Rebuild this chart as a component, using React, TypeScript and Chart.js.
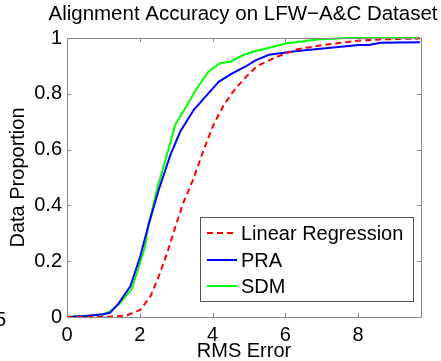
import React, { useEffect, useRef } from "react";
import { Chart, registerables } from "chart.js";

Chart.register(...registerables);

const chartTitle = "Alignment Accuracy on LFW\u2212A&C Dataset";
const xTitle = "RMS Error";
const yTitle = "Data Proportion";
const seriesNames = ["Linear Regression", "PRA", "SDM"];

const xTicks = [0, 2, 4, 6, 8];
const yTicks = [0, 0.2, 0.4, 0.6, 0.8, 1];

const lrX = [0, 0.7, 1.3, 1.64, 2.01, 2.29, 2.52, 2.75, 2.98, 3.2, 3.48, 3.76, 4.03, 4.31, 4.58, 4.9, 5.23, 5.78, 6.33, 7.06, 7.89, 8.62, 9.7];
const lrY = [0, 0, 0.002, 0.006, 0.025, 0.073, 0.145, 0.228, 0.324, 0.41, 0.497, 0.6, 0.69, 0.76, 0.81, 0.858, 0.9, 0.933, 0.96, 0.975, 0.989, 0.995, 0.998];

const praX = [0, 0.5, 1.0, 1.18, 1.41, 1.74, 2.01, 2.24, 2.52, 2.84, 3.11, 3.48, 3.85, 4.17, 4.54, 4.9, 5.18, 5.55, 6.33, 7.25, 8.02, 8.3, 8.62, 9.7];
const praY = [0, 0.004, 0.01, 0.015, 0.047, 0.11, 0.216, 0.33, 0.455, 0.58, 0.664, 0.742, 0.796, 0.843, 0.873, 0.897, 0.92, 0.94, 0.953, 0.965, 0.975, 0.975, 0.983, 0.985];

const sdmX = [0, 0.5, 1.0, 1.18, 1.46, 1.78, 2.14, 2.24, 2.47, 2.7, 2.98, 3.3, 3.57, 3.89, 4.21, 4.49, 4.86, 5.23, 5.41, 6.0, 6.88, 7.7, 9.7];
const sdmY = [0, 0.004, 0.01, 0.02, 0.05, 0.1, 0.25, 0.33, 0.455, 0.56, 0.69, 0.76, 0.82, 0.88, 0.91, 0.915, 0.94, 0.955, 0.96, 0.98, 0.995, 1.0, 1.0];

const toPts = (xs: number[], ys: number[]) => xs.map((x, i) => ({ x, y: ys[i] }));

const FONT = '"Liberation Sans", Arial, Helvetica, sans-serif';

export default function App() {
  const ref = useRef<HTMLCanvasElement | null>(null);

  useEffect(() => {
    const canvas = ref.current;
    if (!canvas) return;

    const decor = {
      id: "decor",
      afterDraw(chart: any) {
        const ctx = chart.ctx;
        const a = chart.chartArea;
        const xs = chart.scales.x;
        const ys = chart.scales.y;
        ctx.save();
        // box
        ctx.strokeStyle = "#8a8a8a";
        ctx.lineWidth = 1;
        ctx.strokeRect(Math.round(a.left) + 0.5, Math.round(a.top) + 0.5, Math.round(a.right - a.left), Math.round(a.bottom - a.top));
        // inside ticks
        const tl = 4;
        ctx.beginPath();
        xTicks.forEach((v) => {
          const px = Math.round(xs.getPixelForValue(v)) + 0.5;
          ctx.moveTo(px, a.bottom);
          ctx.lineTo(px, a.bottom - tl);
          ctx.moveTo(px, a.top);
          ctx.lineTo(px, a.top + tl);
        });
        yTicks.forEach((v) => {
          const py = Math.round(ys.getPixelForValue(v)) + 0.5;
          ctx.moveTo(a.left, py);
          ctx.lineTo(a.left + tl, py);
          ctx.moveTo(a.right, py);
          ctx.lineTo(a.right - tl, py);
        });
        ctx.stroke();

        // titles
        ctx.fillStyle = "#000";
        ctx.font = `20.5px ${FONT}`;
        ctx.textAlign = "center";
        ctx.textBaseline = "middle";
        ctx.fillText(chartTitle, (a.left + a.right) / 2 - 1, 14);
        ctx.font = `20px ${FONT}`;
        ctx.fillText(xTitle, (a.left + a.right) / 2, 351);
        ctx.save();
        ctx.translate(18, (a.top + a.bottom) / 2);
        ctx.rotate(-Math.PI / 2);
        ctx.fillText(yTitle, 0, 0);
        ctx.restore();
        // stray fragment at left edge
        ctx.textAlign = "right";
        ctx.fillText("5", 6, 320);

        // legend
        const lx = 200, ly = 217, lw = 213, lh = 84;
        ctx.fillStyle = "#fff";
        ctx.fillRect(lx, ly, lw, lh);
        ctx.strokeStyle = "#555";
        ctx.lineWidth = 1;
        ctx.strokeRect(lx + 0.5, ly + 0.5, lw, lh);
        const rows = [233, 260, 286];
        chart.data.datasets.forEach((ds: any, i: number) => {
          ctx.beginPath();
          ctx.strokeStyle = ds.borderColor;
          ctx.lineWidth = ds.borderWidth;
          ctx.setLineDash(ds.borderDash || []);
          ctx.moveTo(207, rows[i]);
          ctx.lineTo(237, rows[i]);
          ctx.stroke();
          ctx.setLineDash([]);
          ctx.fillStyle = "#000";
          ctx.textAlign = "left";
          ctx.textBaseline = "middle";
          ctx.font = `20px ${FONT}`;
          ctx.fillText(ds.label, 241, rows[i] + 1);
        });
        ctx.restore();
      },
    };

    const chart = new Chart(canvas, {
      type: "line",
      data: {
        datasets: [
          { label: seriesNames[0], data: toPts(lrX, lrY), borderColor: "#ff0000", borderWidth: 2, borderDash: [6, 4], pointRadius: 0, fill: false, tension: 0 },
          { label: seriesNames[1], data: toPts(praX, praY), borderColor: "#0000ff", borderWidth: 2, pointRadius: 0, fill: false, tension: 0 },
          { label: seriesNames[2], data: toPts(sdmX, sdmY), borderColor: "#00ff00", borderWidth: 2, pointRadius: 0, fill: false, tension: 0 },
        ],
      },
      options: {
        responsive: false,
        animation: false,
        devicePixelRatio: 1,
        clip: false,
        layout: { padding: { left: 0, right: 20, top: 38, bottom: 0 } },
        plugins: { legend: { display: false }, title: { display: false }, tooltip: { enabled: false } },
        scales: {
          x: {
            type: "linear",
            min: 0,
            max: 9.73,
            grid: { display: false, drawTicks: false },
            border: { display: false },
            afterFit: (s: any) => { s.height = 44; },
            afterBuildTicks: (s: any) => { s.ticks = xTicks.map((v) => ({ value: v })); },
            ticks: { color: "#000", padding: 6, maxRotation: 0, autoSkip: false, font: { family: FONT, size: 20 }, callback: (v: any) => String(v) },
          },
          y: {
            type: "linear",
            min: 0,
            max: 1,
            grid: { display: false, drawTicks: false },
            border: { display: false },
            afterFit: (s: any) => { s.width = 67; },
            afterBuildTicks: (s: any) => { s.ticks = yTicks.map((v) => ({ value: v })); },
            ticks: { color: "#000", padding: 5, autoSkip: false, font: { family: FONT, size: 20 }, callback: (v: any) => String(Math.round(Number(v) * 10) / 10) },
          },
        },
      },
      plugins: [decor],
    } as any);

    return () => chart.destroy();
  }, []);

  return (
    <div style={{ position: "fixed", left: 0, top: 0, width: 441, height: 361, background: "#fff" }}>
      <canvas ref={ref} width={441} height={361} style={{ display: "block", width: 441, height: 361 }} />
    </div>
  );
}
